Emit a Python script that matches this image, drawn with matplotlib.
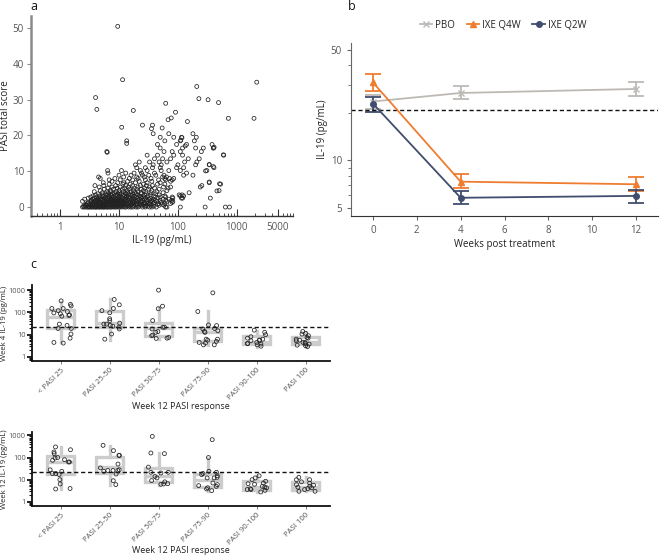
import numpy as np
import matplotlib
matplotlib.use("Agg")
import matplotlib.pyplot as plt
from matplotlib.lines import Line2D
from matplotlib.ticker import LogLocator, NullFormatter, FixedLocator

plt.rcParams['font.family'] = ['Open Sans', 'DejaVu Sans']

# ---------------- Panel a data (IL-19 vs PASI) ----------------
# PASI level -> IL-19 values (pg/mL) of the points read at that level
scatter_rows = {
    0.0: [2.4, 2.55, 2.7, 2.9, 3.0, 3.15, 3.3, 3.5, 3.6, 3.85, 4.0, 4.1, 4.35, 4.6, 4.7, 5.0, 5.2, 5.5, 5.6,
          5.95, 6.3, 6.5, 6.9, 7.3, 7.5, 8.1, 8.6, 9.0, 9.8, 10.3, 11.2, 12.4, 13, 14.6, 16, 17.2, 19.5, 21,
          25, 28, 33, 36, 43, 62, 65, 110, 290, 640, 750],
    0.25: [2.5, 3.05, 3.4, 3.95, 4.25, 4.9, 5.3, 6.1, 6.6, 7.7, 8.3, 9.4, 10.8, 11.5, 13.8, 15.2, 18.3, 22,
           27, 31, 39],
    0.5: [2.65, 2.85, 3.25, 3.7, 4.45, 4.8, 5.4, 5.8, 6.4, 7.1, 7.9, 8.8, 9.3, 10.1, 12, 13.2, 15.7, 17.8,
          20.5, 24, 29, 35, 48, 58],
    0.75: [2.75, 3.5, 3.8, 4.2, 5.1, 5.65, 6.2, 6.8, 7.4, 8.4, 9.6, 10.6, 11.9, 14.1, 16.3, 19, 23, 26, 33,
           45, 55],
    1.0: [2.9, 3.2, 3.6, 4.05, 4.55, 4.95, 5.45, 6.0, 6.55, 7.2, 7.8, 8.7, 9.2, 10.4, 11.3, 12.7, 13.6, 15.5,
          17, 20, 22.5, 28, 31, 38, 47, 60, 75],
    1.3: [3.0, 3.45, 3.9, 4.4, 4.75, 5.25, 5.9, 6.35, 7.0, 7.6, 8.2, 9.0, 9.9, 10.9, 12.2, 14.4, 15.8, 18,
          21, 24.5, 27, 34, 40, 52, 80],
    1.6: [2.4, 3.35, 3.75, 4.15, 4.65, 5.55, 6.05, 6.75, 7.35, 8.0, 8.9, 9.5, 10.7, 11.7, 13.4, 16.8, 19.3,
          23.5, 30, 37, 44, 65, 82],
    1.9: [3.4, 4.0, 4.5, 5.2, 5.7, 6.6, 7.1, 7.7, 8.5, 9.7, 10.2, 11.1, 12.8, 14.8, 17.5, 20.3, 25, 29, 35,
          41, 50, 62, 78],
    2.2: [2.6, 3.6, 4.3, 4.85, 5.35, 6.2, 7.3, 8.3, 9.1, 10.5, 12.3, 13.9, 16.2, 18.5, 22, 27, 32, 38, 56,
          70],
    2.5: [3.0, 3.85, 4.6, 5.75, 6.45, 7.65, 8.6, 9.4, 11.4, 12.9, 15.1, 17.3, 21, 24, 28.5, 34, 46, 82, 115,
          120],
    2.8: [3.3, 4.2, 5.1, 6.0, 6.9, 8.1, 9.9, 10.8, 13.5, 14.7, 19.8, 23, 26.5, 41, 50, 62, 80],
    3.1: [3.6, 4.65, 5.5, 6.7, 7.5, 9.3, 11.6, 12.5, 16.6, 18.2, 22.5, 31, 39, 60, 110, 125],
    3.4: [4.0, 5.3, 6.3, 7.2, 8.8, 10.3, 14.2, 15.6, 20.4, 27, 34, 48, 105, 118],
    3.7: [4.4, 5.9, 7.7, 9.6, 11, 13.1, 17, 19.5, 24, 29, 42],
    4.0: [5.2, 6.6, 8.4, 10.2, 12.8, 14, 18.5, 23.5, 35, 56, 155],
    4.3: [3.8, 6.2, 7.4, 9.0, 11.8, 16, 21, 28.5, 44],
    4.6: [4.8, 7.1, 10, 13.7, 17.5, 26, 36, 65, 500],
    5.0: [5.6, 8.0, 11.4, 15, 20, 24, 32, 48],
    5.3: [6.5, 9.3, 12.5, 18, 27, 40, 68],
    5.6: [4.6, 7.6, 10.5, 14.5, 21, 33, 57, 75, 240],
    6.0: [3.9, 5.5, 8.8, 13, 17, 23, 29, 37, 255],
    6.4: [6.8, 11.6, 15.5, 26, 45, 60, 530],
    6.8: [5.4, 9.5, 12, 19, 30, 50, 340],
    7.2: [7.6, 14, 22, 36, 75],
    7.6: [6.8, 10.5, 17, 28, 47, 62, 80],
    8.0: [4.8, 8.5, 15, 21, 35, 60, 72, 85],
    8.4: [4.5, 12, 20, 27, 55, 64],
    8.9: [10, 16, 25, 32, 42, 58, 125, 180],
    9.5: [6.5, 13, 18, 24, 40, 140],
    10.2: [6.4, 11, 23, 30, 52, 70, 110, 310],
    11.0: [20, 28, 37, 50, 95, 125, 410],
    11.8: [19, 38, 52, 100, 200, 340],
    12.6: [22, 33, 48, 65, 130, 210],
    13.5: [40, 55, 75, 150, 230],
    14.5: [30, 45, 85, 120, 600],
    15.5: [6.2, 58, 80, 110, 250],
    16.5: [50, 120, 200, 270, 400],
    17.5: [45, 95, 140, 380],
    18.5: [13.5, 60, 110, 190],
    19.5: [50, 85, 115, 205],
    20.5: [70, 180],
}
outlier_il19 = [9.5, 11.5, 4.0, 4.2, 17.5, 11.1, 13.5, 6.3, 25, 35.6, 37, 38, 54, 62, 68, 77, 91, 145,
                227, 209, 325, 490, 720, 1960, 2180, 590, 510, 460, 355, 340, 295, 340, 400, 400, 412,
                112, 117, 133]
outlier_pasi = [50.5, 35.6, 30.6, 27.3, 27.0, 22.3, 17.8, 15.3, 22.9, 21.9, 22.9, 20.5, 22.1, 29.0, 24.4,
                24.9, 26.5, 23.9, 30.3, 33.7, 30.0, 29.2, 24.8, 24.8, 34.9, 14.6, 6.5, 4.5, 2.5, 7.0,
                10.1, 11.9, 11.3, 16.5, 16.7, 18.7, 19.4, 17.1]

a_x = [x for y, xs in scatter_rows.items() for x in xs] + outlier_il19
a_y = [y for y, xs in scatter_rows.items() for x in xs] + outlier_pasi

# ---------------- Panel b data ----------------
weeks = [0, 4, 12]
pbo_mean = [23.5, 26.6, 28.2]
pbo_lo = [21.0, 24.4, 25.6]
pbo_hi = [25.8, 29.3, 31.0]
q4w_mean = [31.0, 7.33, 7.06]
q4w_lo = [27.5, 6.7, 6.4]
q4w_hi = [34.8, 8.2, 7.8]
q2w_mean = [22.8, 5.8, 5.96]
q2w_lo = [20.3, 5.3, 5.4]
q2w_hi = [25.2, 6.4, 6.5]
ref_line_b = 20.9

# ---------------- Panel c data ----------------
categories = ['< PASI 25', 'PASI 25-50', 'PASI 50-75', 'PASI 75-90', 'PASI 90-100', 'PASI 100']
ref_line_c = 21.5

w4_q1 = [19, 23, 8.5, 5, 3.8, 3.8]
w4_med = [65, 35, 20, 13, 4.6, 4.8]
w4_q3 = [125, 120, 35, 19, 8.8, 8.0]
w4_lo = [4.5, 6, 6.5, 3.3, 2.8, 2.8]
w4_hi = [300, 380, 180, 110, 15, 13]
w4_points = [
    [230, 330, 195, 150, 150, 120, 110, 95, 73, 68, 78, 87, 30, 26, 19, 19, 10.7, 7, 4.5, 4.2],
    [380, 220, 150, 120, 97, 52, 43, 33, 30, 30, 26, 24, 18, 10.7, 6.3, 22],
    [1000, 190, 146, 43, 21.6, 21.6, 18, 13.7, 12.8, 9, 9.6, 7.5, 7, 6.8],
    [755, 110, 25.6, 27.5, 19, 18, 12.7, 14, 15, 6.3, 5.7, 6.3, 5, 4.2, 3.5, 3.5, 4.5],
    [16, 12.8, 10, 8.1, 7, 6.3, 5.7, 5.3, 4.5, 4, 3.8, 3.5, 3.05, 4, 5.7],
    [14, 11.5, 10.7, 9, 7.5, 7, 6.3, 5.7, 5.3, 4.5, 4.5, 3.4, 3.8, 4, 3.2, 2.95],
]

w12_q1 = [18, 20, 8, 4.7, 3.6, 3.6]
w12_med = [65, 38, 15, 10, 4.8, 4.5]
w12_q3 = [120, 110, 35, 18, 8.5, 7.8]
w12_lo = [3.8, 6, 6, 3.2, 2.8, 3]
w12_hi = [300, 330, 160, 100, 15, 12.7]
w12_points = [
    [300, 225, 150, 178, 100, 95, 80, 75, 63, 63, 28, 24, 19, 19, 17, 10, 6.4, 4, 3.8],
    [355, 205, 125, 125, 51, 34, 28, 26, 26, 26, 24, 18, 9, 6],
    [900, 160, 150, 37, 21.6, 21.6, 20, 12, 14, 9.1, 8, 6.6, 6.4, 6.2],
    [640, 100, 24, 21.6, 19, 17, 15, 12.8, 12, 12, 7.1, 6, 5.4, 5, 4.3, 3.8, 3.2],
    [15, 12, 10, 8.5, 7.1, 6.6, 6.2, 5, 4.6, 4.3, 3.6, 3.3, 2.8, 3.6, 3.9],
    [12.7, 10, 10, 8, 7, 6, 5.6, 5, 4.3, 4, 3.6, 3, 3, 4.6],
]

TICK_COLOR = '#555555'
LABEL_COLOR = '#222222'

W, H = 660, 558
fig = plt.figure(figsize=(W / 100, H / 100), dpi=100)


def box(l, t, r, b):
    return [l / W, 1 - b / H, (r - l) / W, (b - t) / H]


# ---------------- Panel a ----------------
ax_a = fig.add_axes(box(31, 16, 293, 216))
ax_a.scatter(a_x, a_y, s=8, facecolors='none', edgecolors='#222222', linewidths=0.55)
ax_a.set_xscale('log')
ax_a.set_xlim(0.32, 9000)
ax_a.set_ylim(-2.5, 53.4)
ax_a.xaxis.set_major_locator(FixedLocator([1, 10, 100, 1000, 5000]))
ax_a.set_xticklabels(['1', '10', '100', '1000', '5000'])
ax_a.xaxis.set_minor_locator(LogLocator(base=10, subs=np.arange(2, 10)))
ax_a.xaxis.set_minor_formatter(NullFormatter())
ax_a.set_yticks([0, 10, 20, 30, 40, 50])
for s in ['top', 'right']:
    ax_a.spines[s].set_visible(False)
ax_a.spines['left'].set_color('#8a8a8a')
ax_a.spines['left'].set_linewidth(1.8)
ax_a.spines['bottom'].set_color('#333333')
ax_a.spines['bottom'].set_linewidth(1.0)
ax_a.tick_params(axis='x', which='major', direction='in', length=5, width=0.8, colors='#333333',
                 labelcolor=TICK_COLOR, labelsize=7, pad=4)
ax_a.tick_params(axis='x', which='minor', direction='in', length=2.5, width=0.6, colors='#333333')
ax_a.tick_params(axis='y', direction='out', length=3, width=0.8, colors='#8a8a8a',
                 labelcolor=TICK_COLOR, labelsize=7, pad=2)
ax_a.set_xlabel('IL-19 (pg/mL)', fontsize=7, color=LABEL_COLOR, labelpad=2)
ax_a.set_ylabel('PASI total score', fontsize=7, color=LABEL_COLOR, labelpad=1)
fig.text(30 / W, 1 - 7 / H, 'a', fontsize=9, ha='left', va='center', color='#111111')

# ---------------- Panel b ----------------
ax_b = fig.add_axes(box(351, 43, 658, 216))
c_pbo, c_q4, c_q2 = '#bdb9b5', '#ef7d31', '#414d6e'
series_b = [
    ('PBO', pbo_mean, pbo_lo, pbo_hi, c_pbo, 'x', 4),
    ('IXE Q4W', q4w_mean, q4w_lo, q4w_hi, c_q4, '^', 4),
    ('IXE Q2W', q2w_mean, q2w_lo, q2w_hi, c_q2, 'o', 4),
]
handles = []
for name, m, lo, hi, col, mk, ms in series_b:
    m = np.array(m)
    yerr = np.vstack([m - np.array(lo), np.array(hi) - m])
    ax_b.errorbar(weeks, m, yerr=yerr, color=col, marker=mk, markersize=ms, linewidth=1.3,
                  elinewidth=1.3, capsize=6, capthick=1.3)
    handles.append(Line2D([0], [0], color=col, marker=mk, markersize=ms, linewidth=1.3))
ax_b.axhline(ref_line_b, color='#111111', linestyle=(0, (3, 2)), linewidth=1.0)
ax_b.set_yscale('log')
ax_b.set_ylim(4.45, 55)
ax_b.set_xlim(-1, 13)
ax_b.set_xticks([0, 2, 4, 6, 8, 10, 12])
ax_b.yaxis.set_major_locator(FixedLocator([5, 10, 50]))
ax_b.set_yticklabels(['5', '10', '50'])
ax_b.yaxis.set_minor_locator(LogLocator(base=10, subs=np.arange(2, 10)))
ax_b.yaxis.set_minor_formatter(NullFormatter())
for s in ['top', 'right']:
    ax_b.spines[s].set_visible(False)
ax_b.spines['left'].set_color('#666666')
ax_b.spines['bottom'].set_color('#333333')
ax_b.tick_params(axis='both', which='major', length=3, width=0.8, colors='#666666',
                 labelcolor=TICK_COLOR, labelsize=7)
ax_b.tick_params(axis='y', which='minor', length=2, width=0.6, colors='#666666')
ax_b.set_xlabel('Weeks post treatment', fontsize=7, color=LABEL_COLOR, labelpad=2)
ax_b.set_ylabel('IL-19 (pg/mL)', fontsize=7, color=LABEL_COLOR, labelpad=2)
fig.legend(handles, [s[0] for s in series_b], loc='center', bbox_to_anchor=(503 / W, 1 - 25 / H),
           ncol=3, frameon=False, fontsize=7, handlelength=1.3, handletextpad=0.3,
           columnspacing=1.2, labelcolor=LABEL_COLOR)
fig.text(348 / W, 1 - 7 / H, 'b', fontsize=9, ha='left', va='center', color='#111111')

# ---------------- Panel c ----------------
box_col = '#cccccc'


def draw_c(ax, q1, med, q3, lo, hi, pts, ylabel, seed, ylim, top_px, bottom_px, xlabel_top_px):
    stats = []
    for i in range(len(categories)):
        stats.append(dict(q1=q1[i], med=med[i], q3=q3[i], whislo=lo[i], whishi=hi[i], fliers=[]))
    ax.bxp(stats, positions=range(len(categories)), widths=0.55, showcaps=False, showfliers=False,
           patch_artist=True,
           boxprops=dict(facecolor='white', edgecolor=box_col, linewidth=2.4),
           medianprops=dict(color=box_col, linewidth=2.4),
           whiskerprops=dict(color=box_col, linewidth=2.4))
    rng = np.random.default_rng(seed)
    for i, p in enumerate(pts):
        jit = rng.uniform(-0.22, 0.22, len(p))
        ax.scatter(np.full(len(p), i) + jit, p, s=8, facecolors='none', edgecolors='#222222',
                   linewidths=0.55, zorder=4)
    ax.axhline(ref_line_c, color='#111111', linestyle=(0, (3, 2)), linewidth=1.0, zorder=3)
    ax.set_yscale('log')
    ax.set_ylim(*ylim)
    ax.set_xlim(-0.59, 5.5)
    ax.yaxis.set_major_locator(FixedLocator([1, 10, 100, 1000]))
    ax.set_yticklabels(['1', '10', '100', '1000'])
    ax.yaxis.set_minor_locator(LogLocator(base=10, subs=np.arange(2, 10)))
    ax.yaxis.set_minor_formatter(NullFormatter())
    ax.set_xticks(range(len(categories)))
    ax.set_xticklabels(categories, rotation=45, ha='right', rotation_mode='anchor')
    for s in ['top', 'right']:
        ax.spines[s].set_visible(False)
    for s in ['left', 'bottom']:
        ax.spines[s].set_color('#111111')
        ax.spines[s].set_linewidth(1.3)
    ax.tick_params(axis='y', which='major', length=3.5, width=1.3, colors='#111111',
                   labelcolor=TICK_COLOR, labelsize=5.3, pad=1)
    ax.tick_params(axis='y', which='minor', length=2.2, width=0.8, colors='#111111')
    ax.tick_params(axis='x', length=2, width=0.6, colors='#666666', labelcolor=TICK_COLOR,
                   labelsize=5.6, pad=2)
    ax.set_xlabel('Week 12 PASI response', fontsize=6.5, color=LABEL_COLOR)
    ax.set_ylabel(ylabel, fontsize=5.6, color=LABEL_COLOR)
    h = bottom_px - top_px
    ax.yaxis.set_label_coords((8.0 - 32) / 298, 0.5)
    ax.xaxis.set_label_coords(0.5, (bottom_px - xlabel_top_px) / h)


ax_c1 = fig.add_axes(box(32, 285, 330, 361))
draw_c(ax_c1, w4_q1, w4_med, w4_q3, w4_lo, w4_hi, w4_points, 'Week 4 IL-19 (pg/mL)', 4, (0.66, 1700),
       285, 361, 402)

ax_c2 = fig.add_axes(box(32, 432, 330, 506))
draw_c(ax_c2, w12_q1, w12_med, w12_q3, w12_lo, w12_hi, w12_points, 'Week 12 IL-19 (pg/mL)', 12,
       (0.65, 1420), 432, 506, 546)

fig.text(30 / W, 1 - 265 / H, 'c', fontsize=9, ha='left', va='center', color='#111111')

fig.savefig('out.png', dpi=100)
